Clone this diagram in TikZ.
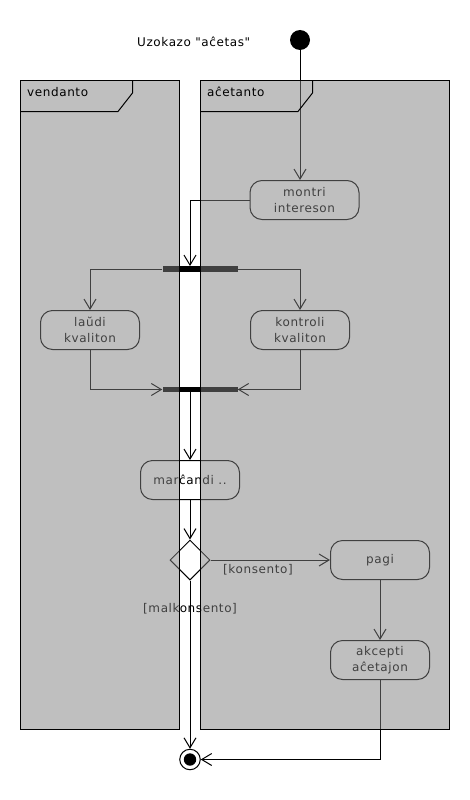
\documentclass[tikz,border=0pt]{standalone}
\usepackage{fontspec}
\setmainfont{DejaVu Sans}[LetterSpace=5, Ligatures=TeXOff]
\usetikzlibrary{arrows.meta,shapes.geometric,calc}
\begin{document}
\begin{tikzpicture}[x=1pt,y=-1pt,
  every node/.style={font=\fontsize{12}{16.5}\selectfont},
  plain/.style={draw=black, line width=1pt},
  flow/.style={plain, -{Straight Barb[length=10pt,width=12pt]}},
  act/.style={draw=black, fill=white, line width=1pt, rounded corners=12pt,
    minimum width=99pt, minimum height=39pt, align=center, inner sep=0pt},
  bar/.style={fill=black, minimum width=75pt, minimum height=5.5pt, inner sep=0pt},
  decision/.style={diamond, draw=black, fill=white, line width=1pt, aspect=1,
    minimum width=40pt, minimum height=40pt, inner sep=0pt},
  startnode/.style={circle, fill=black, minimum size=20pt, inner sep=0pt},
  endnode/.style={circle, draw=black, fill=white, line width=1pt, minimum size=20.5pt,
    inner sep=0pt, path picture={\fill[black] (path picture bounding box.center) circle (6.2pt);}},
  lanefill/.style={fill=black!50, fill opacity=0.5},
  txt/.style={inner sep=0pt, anchor=base west}
]
\useasboundingbox (0,0) rectangle (470,800);

% title
\node[txt] (title) at (137,46.7) {Uzokazo "aĉetas"};

% activity nodes
\node[startnode] (start) at (300,40) {};
\node[act, minimum width=109pt] (montri) at (304.5,200) {montri\\intereson};
\node[bar] (fork) at (200,269) {};
\node[act] (laudi) at (90,330) {laŭdi\\kvaliton};
\node[act] (kontroli) at (300,330) {kontroli\\kvaliton};
\node[bar] (join) at (200,389.5) {};
\node[act] (marcandi) at (190,480) {marĉandi ..};
\node[decision] (dec) at (190,560) {};
\node[act] (pagi) at (380,560) {pagi};
\node[act] (akcepti) at (380,660) {akcepti\\aĉetajon};
\node[endnode] (final) at (190,759.5) {};

% labels
\node[txt] (konsento) at (223,573) {[konsento]};
\node[txt] (malkonsento) at (143,612.7) {[malkonsento]};

% connectors
\draw[flow] (start) -- (start |- montri.north);
\draw[flow] (montri.west) -| ([xshift=-10pt]fork.north);
\draw[flow] (fork.west) -| (laudi.north);
\draw[flow] (fork.east) -| (kontroli.north);
\draw[flow] (laudi.south) |- (join.west);
\draw[flow] (kontroli.south) |- (join.east);
\draw[flow] (join.south -| marcandi.north) -- (marcandi.north);
\draw[flow] (marcandi.south) -- (dec.north);
\draw[flow] (dec.east) -- (pagi.west);
\draw[flow] (dec.south) -- (final.north);
\draw[flow] (pagi.south) -- (akcepti.north);
\draw[flow] (akcepti.south) |- (final.east);

% swimlanes (translucent overlay)
\fill[lanefill] (20,80.5) rectangle (179.5,729.5);
\fill[lanefill] (200,80.5) rectangle (449.5,729.5);
\draw[plain] (20,80.5) rectangle (179.5,729.5);
\draw[plain] (200,80.5) rectangle (449.5,729.5);
\draw[plain] (20,111.5) -- (118,111.5) -- (132.5,93) -- (132.5,80.5);
\draw[plain] (200,111.5) -- (298,111.5) -- (312.5,93) -- (312.5,80.5);
\node[txt] (laneL) at (27,96.7) {vendanto};
\node[txt] (laneR) at (207,96.7) {aĉetanto};
\end{tikzpicture}
\end{document}
